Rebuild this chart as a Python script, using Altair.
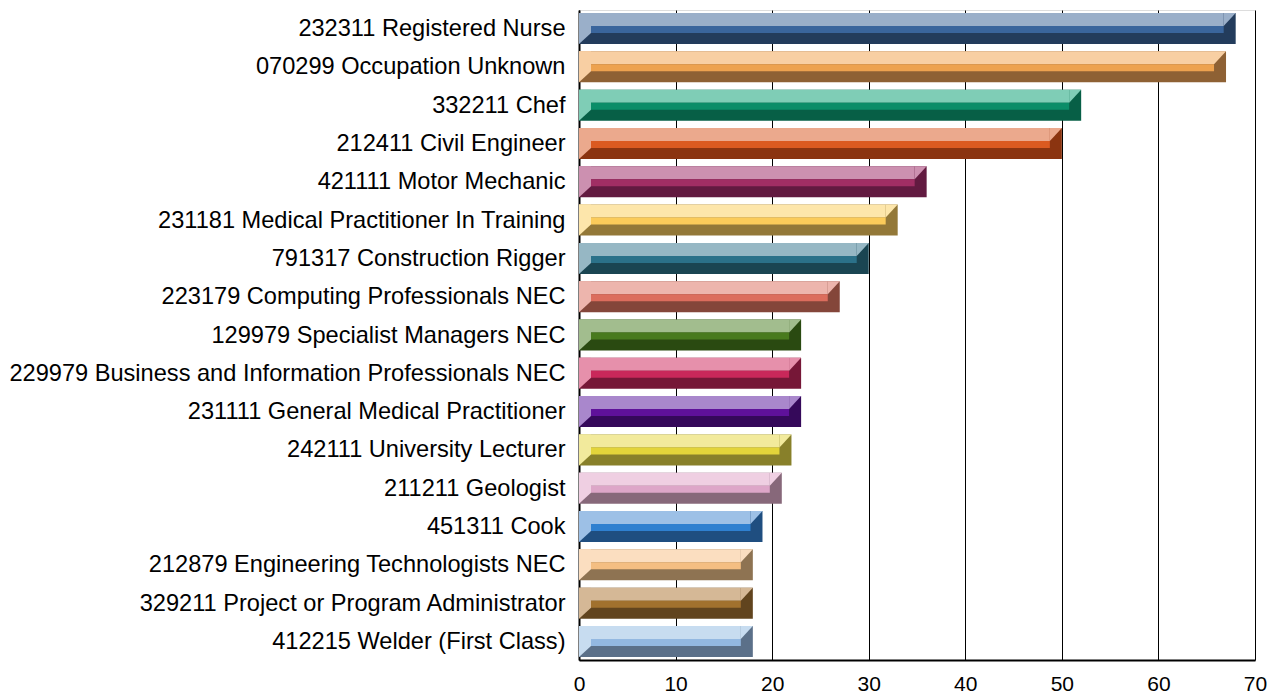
import altair as alt
import pandas as pd

categories = [
    "232311 Registered Nurse",
    "070299 Occupation Unknown",
    "332211 Chef",
    "212411 Civil Engineer",
    "421111 Motor Mechanic",
    "231181 Medical Practitioner In Training",
    "791317 Construction Rigger",
    "223179 Computing Professionals NEC",
    "129979 Specialist Managers NEC",
    "229979 Business and Information Professionals NEC",
    "231111 General Medical Practitioner",
    "242111 University Lecturer",
    "211211 Geologist",
    "451311 Cook",
    "212879 Engineering Technologists NEC",
    "329211 Project or Program Administrator",
    "412215 Welder (First Class)",
]
values = [68, 67, 52, 50, 36, 33, 30, 27, 23, 23, 23, 22, 21, 19, 18, 18, 18]

light_colors = ["#9AAFC9", "#F8CFA3", "#7FCDB6", "#EBA98D", "#CC90B0", "#FDE6AB",
                "#96B7C4", "#EDB5AD", "#A2BD8E", "#E690AB", "#A987CC", "#F2EA9C",
                "#EFCFE2", "#9DC0E6", "#FBDEC0", "#D5B896", "#C7DCF0"]
mid_colors = ["#3A659C", "#EDA24F", "#0B8D68", "#DB5A20", "#A12E64", "#FBCB5A",
              "#2B7189", "#DC6D5D", "#487A1E", "#C9285A", "#5F119A", "#E3D43A",
              "#DDA6C8", "#2F80D0", "#F4BE82", "#A1712E", "#93B8E1"]
dark_colors = ["#233C5C", "#8E6134", "#075F46", "#8B3410", "#621A40", "#937838",
               "#1A4552", "#84463A", "#2A4A11", "#761737", "#35095A", "#88802A",
               "#87687A", "#1F4E80", "#8E7352", "#61441E", "#5B7089"]

df = pd.DataFrame({
    "category": categories,
    "value": values,
    "zero": [0] * len(values),
    "light": light_colors,
    "mid": mid_colors,
    "dark": dark_colors,
})

FONT = "Liberation Sans"

y_enc = alt.Y(
    "category:N",
    sort=categories,
    scale=alt.Scale(type="point", padding=0.483),
    axis=alt.Axis(title=None, ticks=False, domain=True, domainColor="#000",
                  domainWidth=2, labelFont=FONT, labelFontSize=23.6,
                  labelColor="#000", labelPadding=14, labelLimit=700, grid=False),
)

x_enc = alt.X(
    "zero:Q",
    scale=alt.Scale(domain=[0, 70], nice=False, zero=True),
    axis=alt.Axis(title=None, values=[0, 10, 20, 30, 40, 50, 60, 70], ticks=False,
                  grid=True, gridColor="#000", gridWidth=1, gridOpacity=1,
                  domain=True, domainColor="#000", domainWidth=2,
                  labelFont=FONT, labelFontSize=21, labelColor="#000",
                  labelPadding=13, labelFlush=False),
)

base = alt.Chart(df).encode(y=y_enc)

dark = base.mark_rule(strokeWidth=31, strokeCap="butt").encode(
    x=x_enc, x2="value:Q", color=alt.Color("dark:N", scale=None)
)
top_light = base.mark_rule(strokeWidth=13, strokeCap="butt", yOffset=-9, x2Offset=-12).encode(
    x="zero:Q", x2="value:Q", color=alt.Color("light:N", scale=None)
)
mid = base.mark_rule(strokeWidth=7, strokeCap="butt", yOffset=1, xOffset=12, x2Offset=-12).encode(
    x="zero:Q", x2="value:Q", color=alt.Color("mid:N", scale=None)
)
left_bevel = base.mark_point(
    shape="M0,-15.5L12,-15.5L12,4.5L0,15.5Z", size=4, filled=True, opacity=1, strokeWidth=0
).encode(x="zero:Q", color=alt.Color("light:N", scale=None))
right_tri = base.mark_point(
    shape="M-12,-15.5L0,-15.5L-12,-2.5Z", size=4, filled=True, opacity=1, strokeWidth=0
).encode(x="value:Q", color=alt.Color("light:N", scale=None))

chart = alt.layer(dark, top_light, mid, left_bevel, right_tri).properties(
    width=676,
    height=650,
    autosize=alt.AutoSizeParams(type="none"),
    padding={"left": 571, "top": 2, "right": 14, "bottom": 40},
).configure_view(stroke="#000", strokeWidth=1.5).configure(background="white")

chart.save("out.html", embed_options={"renderer": "svg", "actions": False})
